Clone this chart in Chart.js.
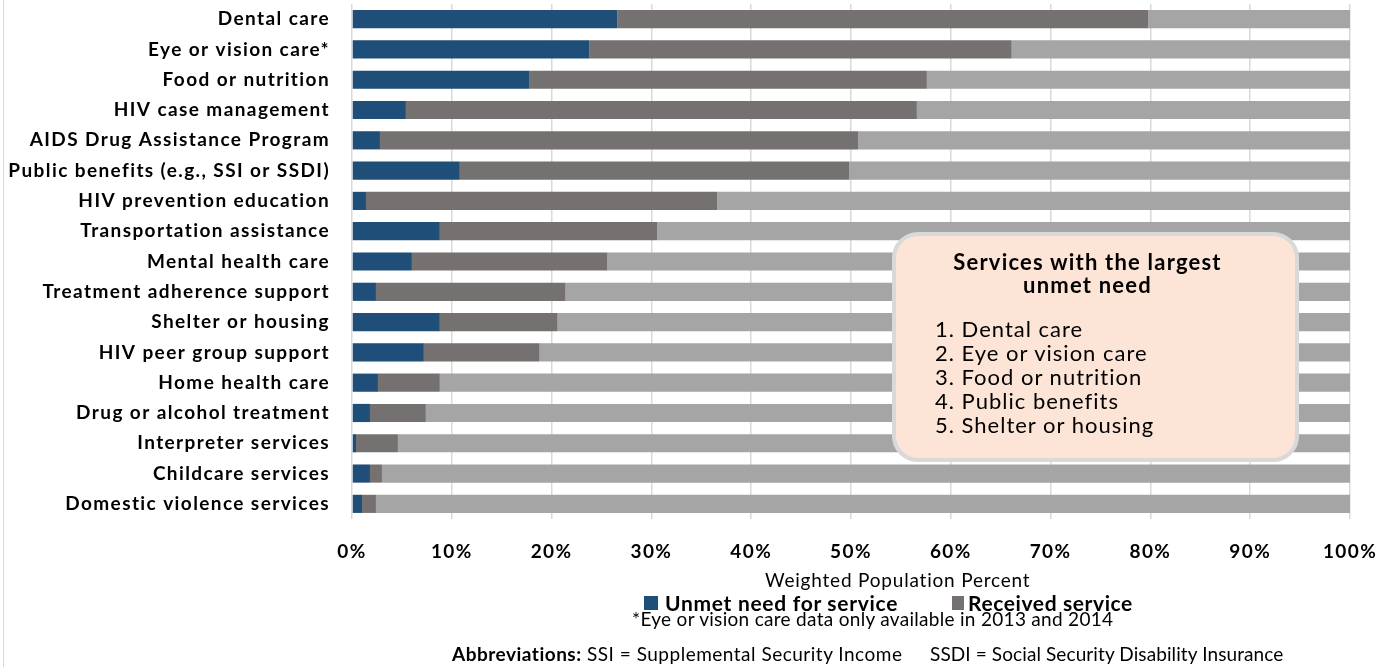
<!DOCTYPE html>
<html>
<head>
<meta charset="utf-8">
<script src="https://cdn.jsdelivr.net/npm/chart.js@4"></script>
<style>
  body { margin: 0; background: #fff; font-family: Lato, "Open Sans", sans-serif; }
  #wrap { position: relative; width: 1392px; height: 667px; overflow: hidden; }
  #frame { position: absolute; left: 3px; top: 0; width: 1px; height: 667px; background: #d9d9d9; }
  .note { position: absolute; white-space: nowrap; color: #000; }
  #callout {
    position: absolute; left: 892px; top: 232px; width: 407px; height: 230px;
    background: #fce4d6; border: 4px solid #d9d9d9; border-radius: 26px; box-sizing: border-box;
  }
  #callout h4 { margin: 0; position: absolute; top: 14px; left: 0; right: 16px; text-align: center;
    font-size: 22px; line-height: 23px; font-weight: 700; letter-spacing: 1.2px; }
  #callout ol { margin: 0; padding: 0; list-style: none; position: absolute; left: 39px; top: 81px;
    font-size: 22px; line-height: 24px; letter-spacing: 1px; }
  .sw { position: absolute; top: 4px; width: 14px; height: 14px; }
</style>
</head>
<body>
<div id="wrap">
  <canvas id="chart" width="1392" height="667"></canvas>
  <div id="frame"></div>
  <div id="callout">
    <h4>Services with the largest<br>unmet need</h4>
    <ol>
      <li>1. Dental care</li>
      <li>2. Eye or vision care</li>
      <li>3. Food or nutrition</li>
      <li>4. Public benefits</li>
      <li>5. Shelter or housing</li>
    </ol>
  </div>
  <div class="note" style="left:765px; top:569px; font-size:19px; line-height:22px; letter-spacing:0.8px;">Weighted Population Percent</div>
  <div class="note" style="left:644px; top:592px; font-size:21px; line-height:22px; font-weight:700; letter-spacing:0.7px; padding-left:21px;">
    <span class="sw" style="left:0; background:#1f4e79"></span>Unmet need for service
  </div>
  <div class="note" style="left:952px; top:592px; font-size:21px; line-height:22px; font-weight:700; letter-spacing:0.6px; padding-left:16px;">
    <span class="sw" style="left:0; width:12px; background:#767171"></span>Received service
  </div>
  <div class="note" style="left:632px; top:608px; font-size:19px; line-height:22px; letter-spacing:0.3px;">*Eye or vision care data only available in 2013 and 2014</div>
  <div class="note" style="left:452px; top:643px; font-size:19px; line-height:22px; letter-spacing:0.5px;"><b>Abbreviations:</b> SSI = Supplemental Security Income</div>
  <div class="note" style="left:930px; top:643px; font-size:19px; line-height:22px; letter-spacing:0.1px;">SSDI = Social Security Disability Insurance</div>
</div>
<script>
const categories = [
  'Dental care', 'Eye or vision care*', 'Food or nutrition', 'HIV case management',
  'AIDS Drug Assistance Program', 'Public benefits (e.g., SSI or SSDI)', 'HIV prevention education',
  'Transportation assistance', 'Mental health care', 'Treatment adherence support',
  'Shelter or housing', 'HIV peer group support', 'Home health care', 'Drug or alcohol treatment',
  'Interpreter services', 'Childcare services', 'Domestic violence services'
];
const unmetNeed = [26.6, 23.8, 17.8, 5.4, 2.8, 10.8, 1.4, 8.8, 6.0, 2.4, 8.8, 7.2, 2.6, 1.8, 0.4, 1.8, 1.0];
const receivedService = [53.2, 42.3, 39.8, 51.2, 47.9, 39.0, 35.2, 21.8, 19.6, 19.0, 11.8, 11.6, 6.2, 5.6, 4.2, 1.2, 1.4];
const noNeed = [20.2, 33.9, 42.4, 43.4, 49.3, 50.2, 63.4, 69.4, 74.4, 78.6, 79.4, 81.2, 91.2, 92.6, 95.4, 97.0, 97.6];
const xTicks = [0, 10, 20, 30, 40, 50, 60, 70, 80, 90, 100];

// labels in the reference are spaced out a bit, canvas letterSpacing handles that
const spacedText = {
  id: 'spacedText',
  beforeDraw: chart => { chart.ctx.letterSpacing = '1.4px'; }
};

const ctx = document.getElementById('chart').getContext('2d');
new Chart(ctx, {
  type: 'bar',
  data: {
    labels: categories,
    datasets: [
      { label: 'Unmet need for service', data: unmetNeed, backgroundColor: '#1f4e79' },
      { label: 'Received service', data: receivedService, backgroundColor: '#767171' },
      { label: 'No need', data: noNeed, backgroundColor: '#a5a5a5' }
    ]
  },
  plugins: [spacedText],
  options: {
    indexAxis: 'y',
    responsive: false,
    animation: false,
    layout: { padding: { top: 4, right: 42, left: 0, bottom: 0 } },
    datasets: { bar: { barPercentage: 0.6, categoryPercentage: 1 } },
    plugins: { legend: { display: false }, tooltip: { enabled: false } },
    scales: {
      x: {
        stacked: true,
        min: 0,
        max: 100,
        afterBuildTicks: axis => { axis.ticks = xTicks.map(v => ({ value: v })); },
        afterFit: axis => {
          axis.height = 148;
          axis.paddingLeft = 0;
          axis.paddingRight = 0;
        },
        grid: { color: '#d9d9d9', lineWidth: 1.5, drawTicks: false },
        border: { display: false },
        ticks: {
          padding: 21,
          color: '#000',
          font: { family: 'Lato', size: 19, weight: 'bold' },
          callback: v => v + '%'
        }
      },
      y: {
        stacked: true,
        afterFit: axis => {
          axis.width = 352;
          axis.paddingTop = 0;
          axis.paddingBottom = 0;
        },
        grid: { display: false, drawTicks: false },
        border: { display: false },
        ticks: {
          padding: 22,
          color: '#000',
          font: { family: 'Lato', size: 19, weight: 'bold' }
        }
      }
    }
  }
});
</script>
</body>
</html>
